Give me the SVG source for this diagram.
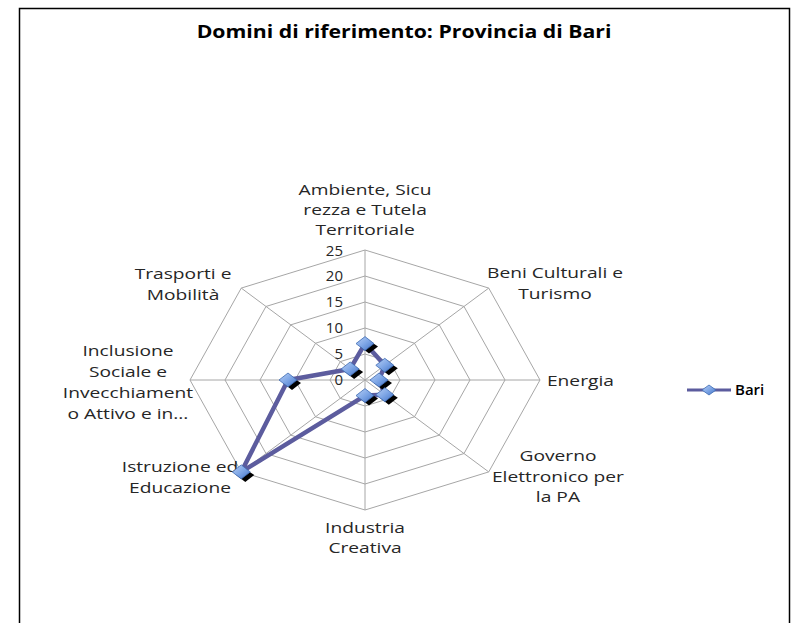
<svg xmlns="http://www.w3.org/2000/svg" width="796" height="623" viewBox="0 0 796 623">
<style>
.frame{fill:#fff;stroke:#000;stroke-width:1.5}
.grid{fill:none;stroke:#a6a6a6;stroke-width:1}
.title{font-family:"Open Sans","Liberation Sans",sans-serif;font-weight:bold;font-size:18px;fill:#000;text-anchor:middle}
.lbl{font-family:"Open Sans","Liberation Sans",sans-serif;font-size:15px;fill:#262626;text-anchor:middle}
.tick{font-family:"Open Sans","Liberation Sans",sans-serif;font-size:15px;fill:#262626;text-anchor:end}
.series{fill:none;stroke:#5c5c9e;stroke-width:4.5;stroke-linejoin:round}
.shadow{fill:#000}
.mk{fill:url(#mkg);stroke:#3d6bb3;stroke-width:0.8}
</style>
<defs>
<linearGradient id="mkg" x1="0" y1="0" x2="1" y2="1">
<stop offset="0" stop-color="#b9d0f5"/>
<stop offset="0.5" stop-color="#7ea6e6"/>
<stop offset="1" stop-color="#3f70c4"/>
</linearGradient>
<g id="marker">
<path class="shadow" d="M-5,3 L4,-3 L13,3 L4,10 Z"/>
<path class="mk" d="M-9,0 L0,-7 L9,0 L0,7 Z"/>
</g>
</defs>
<rect class="frame" x="19.5" y="8.5" width="770" height="640"/>
<g transform="scale(1.18,1)">
<text class="title" x="342.4" y="38">Domini di riferimento: Provincia di Bari</text>
</g>
<g id="grid">
<polygon class="grid" points="365,354 389.75,361.62 400,380 389.75,398.38 365,406 340.25,398.38 330,380 340.25,361.62"/>
<polygon class="grid" points="365,328 414.5,343.23 435,380 414.5,416.77 365,432 315.5,416.77 295,380 315.5,343.23"/>
<polygon class="grid" points="365,302 439.25,324.85 470,380 439.25,435.15 365,458 290.75,435.15 260,380 290.75,324.85"/>
<polygon class="grid" points="365,276 463.99,306.46 505,380 463.99,453.54 365,484 266.01,453.54 225,380 266.01,306.46"/>
<polygon class="grid" points="365,250 488.74,288.08 540,380 488.74,471.92 365,510 241.26,471.92 190,380 241.26,288.08"/>
<path class="grid" d="M365,380 L365,250 M365,380 L488.74,288.08 M365,380 L540,380 M365,380 L488.74,471.92 M365,380 L365,510 M365,380 L241.26,471.92 M365,380 L190,380 M365,380 L241.26,288.08"/>
</g>
<g id="ticks">
<text class="tick" x="343" y="385">0</text>
<text class="tick" x="343" y="359">5</text>
<text class="tick" x="343" y="333">10</text>
<text class="tick" x="343" y="307">15</text>
<text class="tick" x="343" y="281">20</text>
<text class="tick" x="343" y="256">25</text>
</g>
<g transform="scale(1.28,1)">
<g id="lbl-ambiente"><text class="lbl" x="285.2" y="195">Ambiente, Sicu</text><text class="lbl" x="285.2" y="215">rezza e Tutela</text><text class="lbl" x="285.2" y="235">Territoriale</text></g>
<g id="lbl-beni"><text class="lbl" x="433.6" y="278">Beni Culturali e</text><text class="lbl" x="433.6" y="299">Turismo</text></g>
<g id="lbl-energia"><text class="lbl" x="427.3" y="386" style="text-anchor:start">Energia</text></g>
<g id="lbl-governo"><text class="lbl" x="435.9" y="461">Governo</text><text class="lbl" x="435.9" y="482">Elettronico per</text><text class="lbl" x="435.9" y="502">la PA</text></g>
<g id="lbl-industria"><text class="lbl" x="285.2" y="533">Industria</text><text class="lbl" x="285.2" y="553">Creativa</text></g>
<g id="lbl-istruzione"><text class="lbl" x="140.6" y="472">Istruzione ed</text><text class="lbl" x="140.6" y="493">Educazione</text></g>
<g id="lbl-inclusione"><text class="lbl" x="100" y="356">Inclusione</text><text class="lbl" x="100" y="377">Sociale e</text><text class="lbl" x="100" y="398">Invecchiament</text><text class="lbl" x="100" y="419">o Attivo e in...</text></g>
<g id="lbl-trasporti"><text class="lbl" x="143" y="279">Trasporti e</text><text class="lbl" x="143" y="300">Mobilità</text></g>
</g>
<g id="series-bari">
<polygon class="series" points="365,343.6 384.8,365.3 379,380 384.8,394.7 365,395.6 241.26,471.92 288,380 350.15,368.97"/>
<use href="#marker" x="365" y="343.6"/>
<use href="#marker" x="384.8" y="365.3"/>
<use href="#marker" x="379" y="380"/>
<use href="#marker" x="384.8" y="394.7"/>
<use href="#marker" x="365" y="395.6"/>
<use href="#marker" x="241.26" y="471.92"/>
<use href="#marker" x="288" y="380"/>
<use href="#marker" x="350.15" y="368.97"/>
</g>
<g id="legend">
<line x1="687" y1="390" x2="731" y2="390" stroke="#5c5c9e" stroke-width="3"/>
<path class="mk" d="M702,390 L709,385 L716,390 L709,395 Z"/>
<text x="735" y="395" style="font-family:'Open Sans','Liberation Sans',sans-serif;font-size:15px;font-weight:600;fill:#000">Bari</text>
</g>
</svg>
